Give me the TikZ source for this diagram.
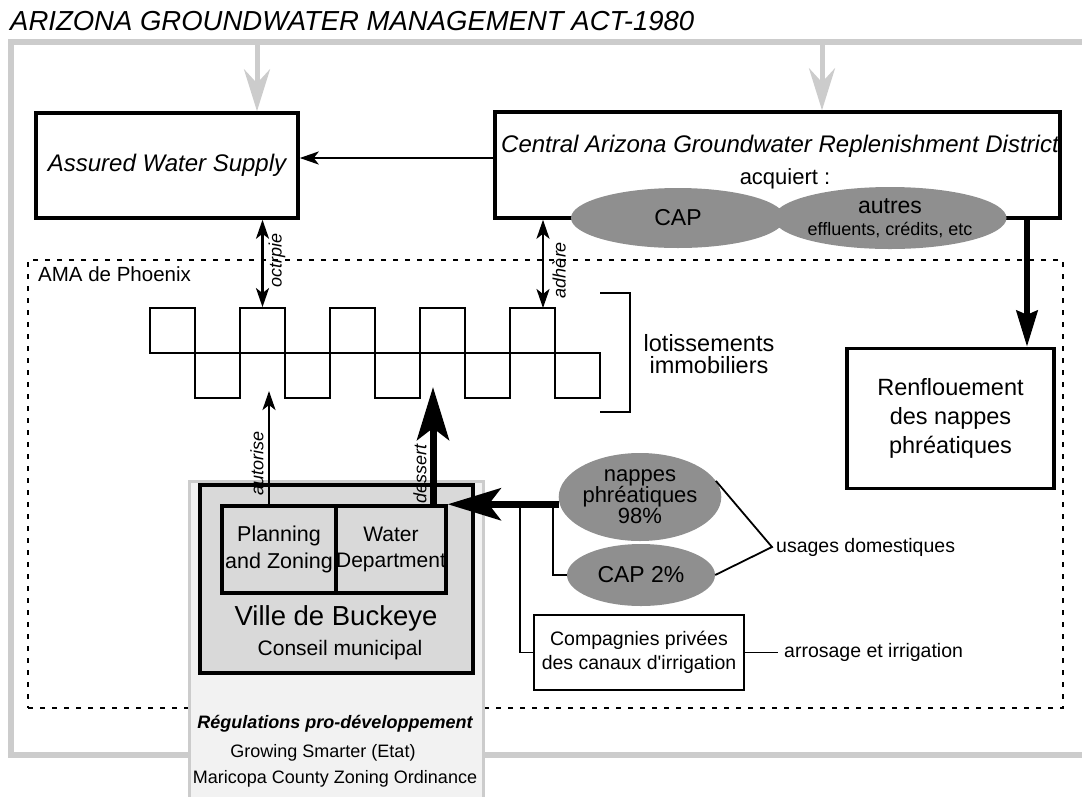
\documentclass[tikz,border=0pt]{standalone}
\usepackage{fontspec}
\setmainfont{Liberation Sans}[Ligatures=TeXOff]
\usetikzlibrary{positioning,shapes.geometric,arrows.meta}
\definecolor{framegray}{gray}{0.8}
\definecolor{blobgray}{gray}{0.56}
\definecolor{towngray}{gray}{0.85}
\definecolor{regulgray}{gray}{0.95}
\newcommand\fs[2]{\fontsize{#1}{#2}\selectfont}

\begin{document}
\begin{tikzpicture}[x=1pt,y=-1pt,
    >={Stealth[length=19pt,width=13pt,inset=5pt]},
    box/.style={rectangle,draw,line width=3.5pt,inner sep=0pt,align=center},
    blob/.style={ellipse,fill=blobgray,inner sep=0pt,align=center},
    lot/.style={rectangle,draw,line width=1.8pt,minimum size=45pt,inner sep=0pt},
    thin/.style={line width=2.5pt},
    link/.style={line width=1.8pt},
    heavy/.style={line width=7pt,-{Stealth[length=53pt,width=32pt,inset=12pt]}},
    grayarrow/.style={draw=framegray,line width=5pt,-{Stealth[length=42pt,width=26pt,inset=14pt]}},
    vlabel/.style={rotate=90,font=\fs{18}{18}\itshape,inner sep=0pt}]
    \useasboundingbox (0,0) rectangle (1082,796);
    % Groundwater Management Act frame
    \draw[framegray,line width=5.5pt] (1090,42) -- (11,42) -- (11,755) -- (1090,755);
    \node[anchor=base west,inner sep=0pt,font=\fs{27.5}{27.5}\itshape] (title) at (10,30) {ARIZONA GROUNDWATER MANAGEMENT ACT-1980};
    % top level boxes
    \node[box,minimum width=262pt,minimum height=105pt,font=\fs{24}{24}\itshape] (aws) at (167,165.5) {Assured Water Supply};
    \node[box,minimum width=565pt,minimum height=106pt] (cagrd) at (777.5,165) {};
    \node[font=\fs{24}{24}\itshape] (cagrdname) at (780,146) {Central Arizona Groundwater Replenishment District};
    \node[font=\fs{22}{22}] (acq) at (785,179) {acquiert :};
    \node[blob,minimum width=214pt,minimum height=60pt,font=\fs{23}{23}] (cap) at (678,218) {CAP};
    \node[blob,minimum width=210pt,minimum height=62pt,font=\fs{23}{22}] (autres) at (890,218) {autres\\{\fs{18}{18}effluents, crédits, etc}};
    \coordinate (g1) at (257,42);
    \coordinate (g2) at (822,42);
    \draw[grayarrow] (g1) -- (g1 |- aws.north);
    \draw[grayarrow] (g2) -- (g2 |- cagrd.north);
    \draw[thin,->] ([yshift=7pt]cagrd.west) -- ([yshift=7pt]cagrd.west -| aws.east);
    % AMA de Phoenix
    \node[draw,dash pattern=on 5pt off 7pt,line width=2.6pt,minimum width=1035pt,minimum height=448pt] (ama) at (545.5,484) {};
    \node[anchor=base west,inner sep=0pt,font=\fs{20.5}{20.5}] (amaname) at (38,281) {AMA de Phoenix};
    % lotissements
    \foreach \i in {0,...,4}{
      \node[lot] (up\i) at (172.5+90*\i,330.5) {};
      \node[lot] (dn\i) at (217.5+90*\i,375.5) {};
    }
    \draw[line width=2.2pt] (600,293) -- (630,293) -- (630,412) -- (600,412);
    \node[align=center,font=\fs{23.5}{22}] (lots) at (709,354) {lotissements\\immobiliers};
    \coordinate (adh) at (543,308);
    \draw[thin,<->] (aws.south -| up1.north) -- (up1.north);
    \node[vlabel] (octr) at (277,260) {octrpie};
    \draw[thin,<->] (cagrd.south -| adh) -- (adh);
    \node[vlabel] (adhlabel) at (559,270) {adhère};
    % Renflouement
    \node[box,minimum width=207pt,minimum height=140pt,font=\fs{23.5}{29}] (renfl) at (950.5,418.5) {Renflouement\\des nappes\\phréatiques};
    \coordinate (drop) at (1027,218);
    \draw[line width=6pt,-{Stealth[length=36pt,width=21pt,inset=4pt]}] (drop) -- (drop |- renfl.north);
    % Regulations + Ville de Buckeye
    \node[draw=framegray,fill=regulgray,line width=3pt,minimum width=294pt,minimum height=330pt,anchor=north west] (regul) at (188,480) {};
    \node[anchor=base,font=\fs{18}{18}\bfseries\itshape] (regtitle) at (335,728) {Régulations pro-développement};
    \node[anchor=base,font=\fs{18}{18}] (growing) at (323,757) {Growing Smarter (Etat)};
    \node[anchor=base,font=\fs{18}{18}] (maricopa) at (335,783) {Maricopa County Zoning Ordinance};
    \node[draw,fill=towngray,line width=3.5pt,minimum width=273pt,minimum height=188pt] (town) at (336.5,579) {};
    \node[box,minimum width=114pt,minimum height=87pt,font=\fs{21.5}{27}] (plan) at (279,549.5) {Planning\\and Zoning};
    \node[box,minimum width=110pt,minimum height=87pt,font=\fs{21}{26}] (water) at (391,549.5) {Water\\Department};
    \node[anchor=base,font=\fs{27.5}{27.5}] (townname) at (336,625) {Ville de Buckeye};
    \node[anchor=base,font=\fs{21}{21}] (council) at (340,655) {Conseil municipal};
    \coordinate (aut) at (269,391);
    \coordinate (des) at (433,387);
    \draw[thin,->] (plan.north -| aut) -- (aut);
    \node[vlabel] (autlabel) at (257,463) {autorise};
    \draw[heavy] (water.north -| des) -- (des);
    \node[vlabel] (deslabel) at (420,474) {dessert};
    % water sources
    \node[blob,minimum width=154pt,minimum height=88pt,font=\fs{22}{21}] (nappes) at (640,497) {nappes\\phréatiques\\98\%};
    \node[blob,minimum width=148pt,minimum height=62pt,font=\fs{23}{23}] (cap2) at (641,575) {CAP 2\%};
    \node[draw,line width=1.8pt,minimum width=210pt,minimum height=75pt,align=center,font=\fs{19.5}{24}] (comp) at (639,652.5) {Compagnies privées\\des canaux d'irrigation};
    \draw[heavy] (nappes.west |- water.north east) -- (water.north east);
    \coordinate (br1) at (520,506);
    \coordinate (br2) at (553,506);
    \draw[link] (br1) |- (comp.west);
    \draw[link] (br2) |- (cap2.west);
    \coordinate (usg) at (772,547);
    \draw[link] (nappes.12) -- (usg) -- (cap2.east);
    \node[anchor=west,inner sep=0pt,font=\fs{19.5}{19.5}] (usages) at ([xshift=4pt]usg) {usages domestiques};
    \node[anchor=west,inner sep=0pt,font=\fs{19.5}{19.5}] (arros) at (784,652.5) {arrosage et irrigation};
    \draw[link] (comp.east) -- ([xshift=-6pt]arros.west);
\end{tikzpicture}
\end{document}
